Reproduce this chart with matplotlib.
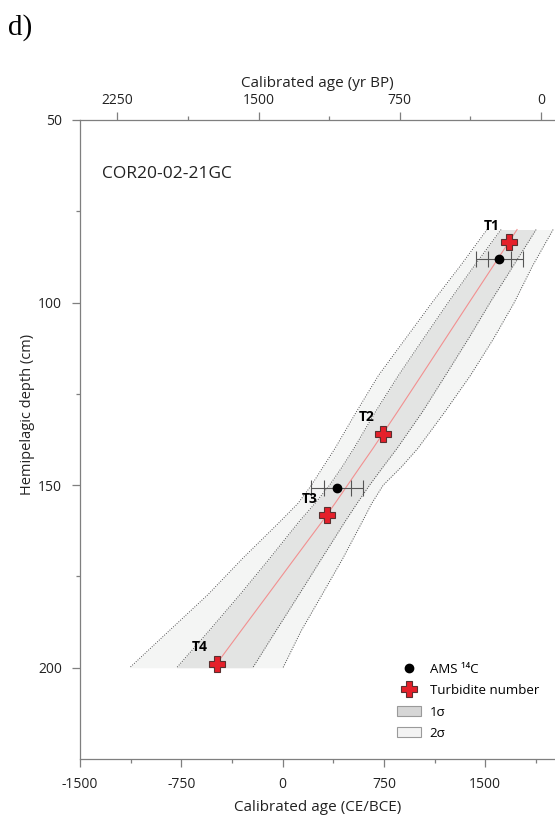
import matplotlib
matplotlib.use("Agg")
import matplotlib.pyplot as plt
from matplotlib.lines import Line2D
from matplotlib.patches import Patch
from matplotlib.ticker import FixedLocator

plt.rcParams['font.family'] = ['Open Sans', 'DejaVu Sans']

# age-depth model (CE/BCE years vs hemipelagic depth in cm)
model_depth = [80, 90, 100, 110, 120, 130, 140, 145, 150, 155, 160, 170, 180, 190, 200]
median_age = [1736, 1559, 1381, 1204, 1027, 849, 668, 574, 481, 388, 292, 91, -109, -310, -510]
sig1_lo = [1618, 1418, 1226, 1041, 857, 686, 527, 441, 348, 240, 122, -94, -316, -547, -784]
sig1_hi = [1877, 1707, 1536, 1374, 1205, 1034, 846, 744, 644, 551, 462, 291, 121, -51, -221]
sig2_lo = [1514, 1315, 1107, 908, 709, 545, 387, 300, 214, 114, -19, -294, -553, -843, -1132]
sig2_hi = [2003, 1850, 1715, 1560, 1390, 1200, 1000, 880, 745, 660, 590, 447, 292, 136, 3]

# AMS 14C dates
ams_depth = [88, 150.8]
ams_age = [1605, 405]
ams_1s_minus = [82, 101]
ams_1s_plus = [86, 104]
ams_2s_minus = [173, 195]
ams_2s_plus = [173, 188]

# turbidites
turb_labels = ['T1', 'T2', 'T3', 'T4']
turb_depth = [83.5, 136, 158.3, 198.9]
turb_age = [1674, 743, 326, -488]

ce_ticks = [-1500, -750, 0, 750, 1500]
ce_minor = [-1125, -375, 375, 1125, 1875]
bp_ticks = [2250, 1500, 750, 0]
bp_minor = [1875, 1125, 375]
depth_ticks = [50, 100, 150, 200]
depth_minor = [75, 125, 175]

gray = '#7f7f7f'
edge = '#4d4d4d'
txt = '#222222'

fig = plt.figure(figsize=(5.55, 8.16), dpi=100)
ax = fig.add_axes([80 / 555, 1 - 759 / 816, 475 / 555, 639 / 816])

ax.fill_betweenx(model_depth, sig2_lo, sig2_hi, color='#f4f5f4', lw=0, zorder=1)
ax.fill_betweenx(model_depth, sig1_lo, sig1_hi, color='#e3e4e3', lw=0, zorder=2)
for edge_line in (sig2_lo, sig2_hi, sig1_lo, sig1_hi):
    ax.plot(edge_line, model_depth, ls=(0, (1, 1.5)), color=edge, lw=0.7, zorder=3)
ax.plot(median_age, model_depth, color='#f29090', lw=0.8, zorder=3)

ax.errorbar(ams_age, ams_depth, xerr=[ams_2s_minus, ams_2s_plus], fmt='none',
            ecolor='#555555', elinewidth=0.8, capsize=5.5, capthick=0.8, zorder=4)
ax.errorbar(ams_age, ams_depth, xerr=[ams_1s_minus, ams_1s_plus], fmt='none',
            ecolor='#555555', elinewidth=0, capsize=5.5, capthick=0.8, zorder=4)
ax.plot(ams_age, ams_depth, 'o', color='black', ms=6, zorder=5)

ax.plot(turb_age, turb_depth, 'P', ms=12, mfc='#e5202a', mec='#5a3030', mew=0.8,
        ls='none', zorder=6)
for lab, a, d in zip(turb_labels, turb_age, turb_depth):
    ax.annotate(lab, (a, d), xytext=(-12, 12), textcoords='offset points',
                ha='center', va='center', fontsize=10, fontweight='bold', zorder=7)

ax.set_xlim(-1500, 2017)
ax.set_ylim(225, 50)
ax.xaxis.set_major_locator(FixedLocator(ce_ticks))
ax.xaxis.set_minor_locator(FixedLocator(ce_minor))
ax.yaxis.set_major_locator(FixedLocator(depth_ticks))
ax.yaxis.set_minor_locator(FixedLocator(depth_minor))
ax.set_xticklabels([str(t) for t in ce_ticks])

for s in ('top', 'right'):
    ax.spines[s].set_visible(False)
for s in ('left', 'bottom'):
    ax.spines[s].set_color(gray)
    ax.spines[s].set_linewidth(0.9)

ax.tick_params(which='major', length=6, width=0.9, color=gray, labelsize=10, pad=7,
               labelcolor=txt)
ax.tick_params(which='minor', length=3, width=0.9, color=gray)
ax.set_xlabel('Calibrated age (CE/BCE)', fontsize=11, color=txt, labelpad=6)
ax.set_ylabel('Hemipelagic depth (cm)', fontsize=10.5, color=txt)
ax.yaxis.set_label_coords(-0.094, 0.54)

# top axis in yr BP
ax2 = ax.twiny()
ax2.set_xlim(2449, -74)
ax2.xaxis.set_major_locator(FixedLocator(bp_ticks))
ax2.xaxis.set_minor_locator(FixedLocator(bp_minor))
ax2.set_xticklabels([str(t) for t in bp_ticks])
for s in ('left', 'right', 'bottom'):
    ax2.spines[s].set_visible(False)
ax2.spines['top'].set_color(gray)
ax2.spines['top'].set_linewidth(0.9)
ax2.tick_params(which='major', length=6, width=0.9, color=gray, labelsize=10, pad=3,
                labelcolor=txt)
ax2.tick_params(which='minor', length=3, width=0.9, color=gray)
ax2.set_xlabel('Calibrated age (yr BP)', fontsize=11, color=txt, labelpad=4)

ax.text(0.046, 0.916, 'COR20-02-21GC', transform=ax.transAxes, fontsize=12.5,
        va='center', ha='left', color=txt)

handles = [
    Line2D([], [], marker='o', color='black', ls='none', ms=6),
    Line2D([], [], marker='P', ls='none', ms=12, mfc='#e5202a', mec='#5a3030', mew=0.8),
    Patch(facecolor='#d6d6d6', edgecolor='#9a9a9a', lw=0.8),
    Patch(facecolor='#f3f3f3', edgecolor='#9a9a9a', lw=0.8),
]
labels = ['AMS \u00b9\u2074C', 'Turbidite number', '1\u03c3', '2\u03c3']
ax.legend(handles, labels, loc='upper left', bbox_to_anchor=(0.667, 0.150),
          frameon=False, fontsize=9.5, borderpad=0, borderaxespad=0,
          handlelength=1.8, handleheight=0.83, handletextpad=0.7, labelspacing=0.62)

fig.text(8 / 555, 1 - 28 / 816, 'd)', family='Liberation Serif', fontsize=21,
         va='center', ha='left')

fig.savefig('out.png', dpi=100)
